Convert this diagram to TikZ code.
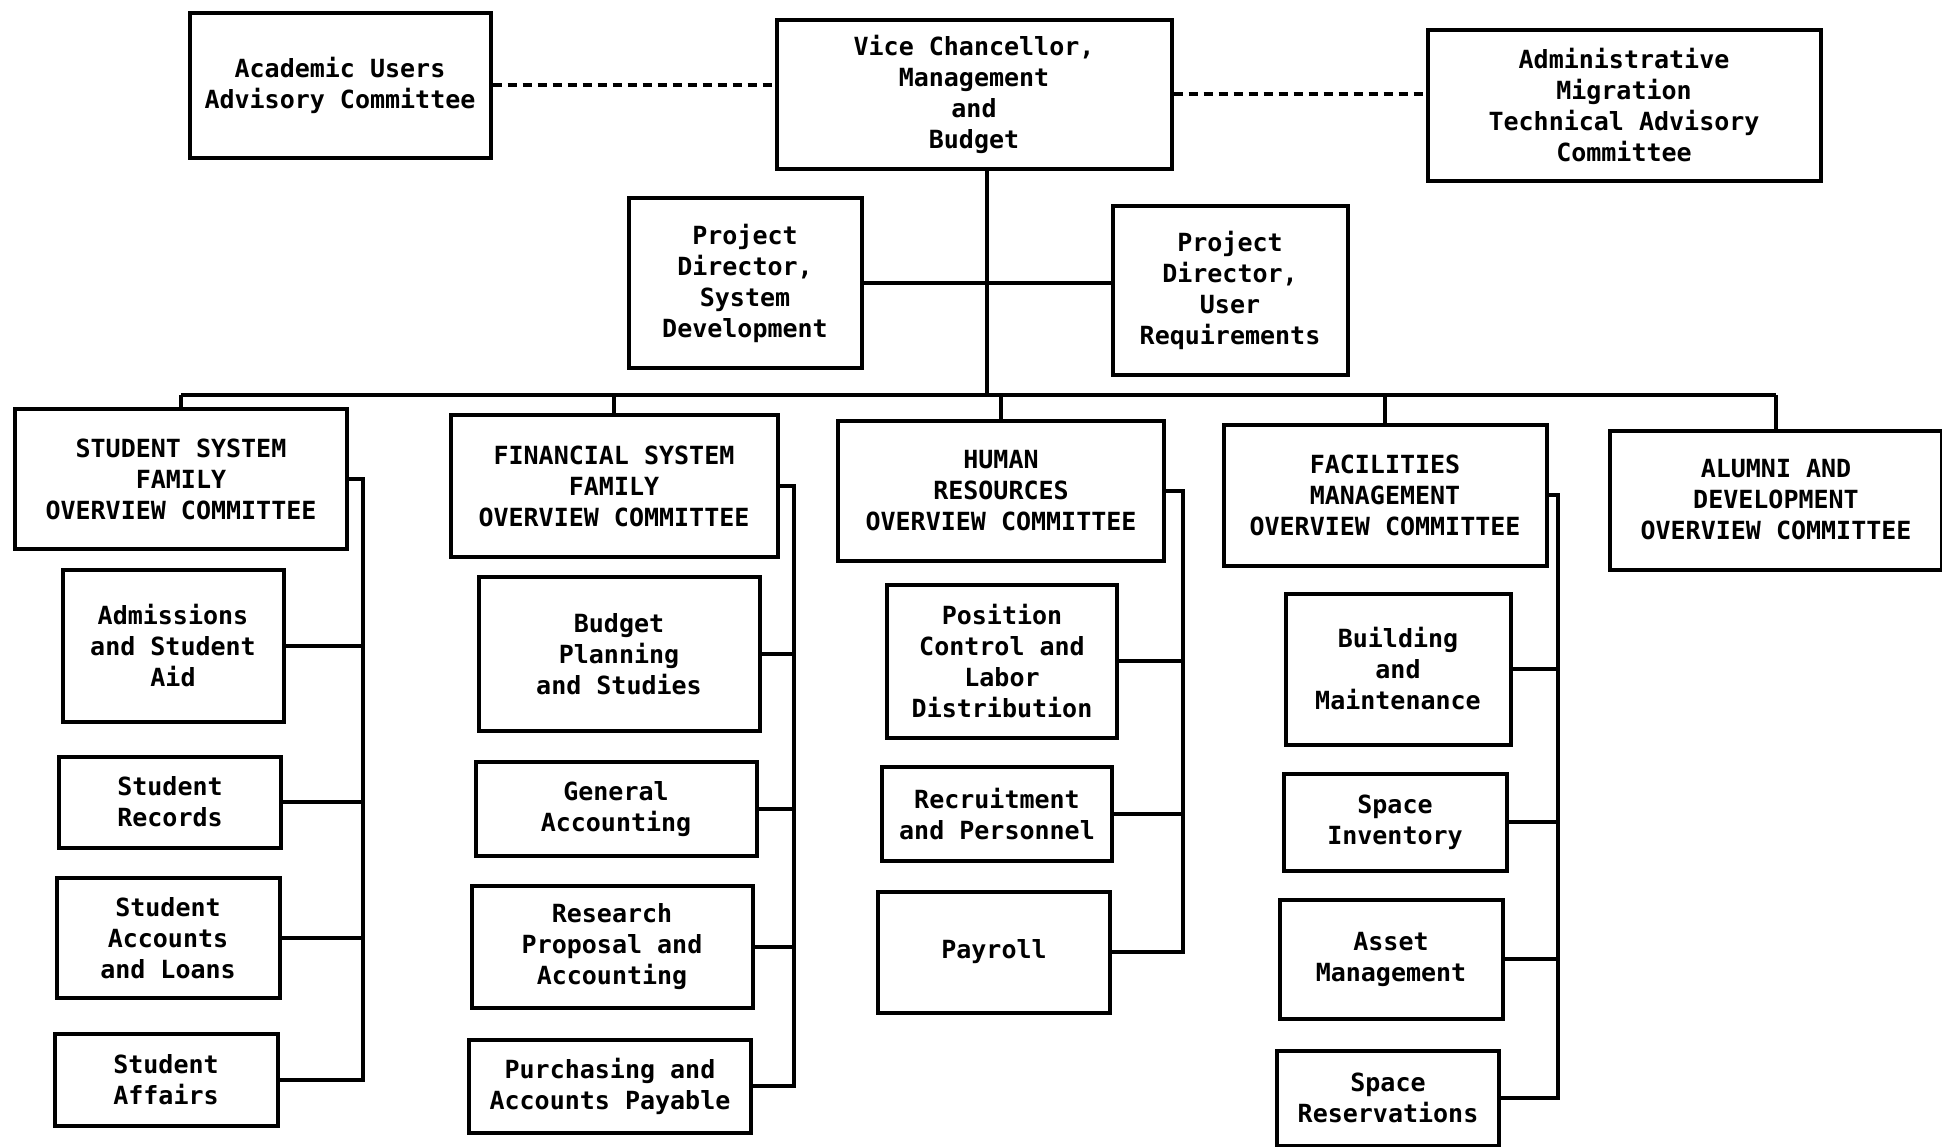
\documentclass[tikz,border=0pt]{standalone}
\usepackage{fontspec}
\setmonofont{DejaVu Sans Mono}
\usetikzlibrary{calc}

\begin{document}
\begin{tikzpicture}[x=1pt,y=-1pt,
    box/.style={draw, line width=4pt, align=center, inner sep=0pt,
      font=\fontsize{25}{31}\selectfont\ttfamily\bfseries},
    link/.style={line width=3.5pt},
    dashlink/.style={line width=4pt, dash pattern=on 9pt off 6pt}]
  \useasboundingbox (0,0) rectangle (1942,1146);

  % top row
  \node[box, minimum width=301pt, minimum height=145pt] (acad) at (340,85) {Academic Users\\Advisory Committee};
  \node[box, minimum width=395pt, minimum height=149pt] (vc) at (974,94) {Vice Chancellor,\\Management\\and\\Budget};
  \node[box, minimum width=393pt, minimum height=151pt] (admin) at (1624,105) {Administrative\\Migration\\Technical Advisory\\Committee};
  \node[box, minimum width=233pt, minimum height=170pt] (pdsys) at (745,283) {Project\\Director,\\System\\Development};
  \node[box, minimum width=235pt, minimum height=169pt] (pdusr) at (1230,290) {Project\\Director,\\User\\Requirements};

  % overview committees
  \node[box, minimum width=332pt, minimum height=140pt] (stud) at (181,479) {STUDENT SYSTEM\\FAMILY\\OVERVIEW COMMITTEE};
  \node[box, minimum width=327pt, minimum height=142pt] (fin) at (614,486) {FINANCIAL SYSTEM\\FAMILY\\OVERVIEW COMMITTEE};
  \node[box, minimum width=326pt, minimum height=140pt] (hr) at (1001,491) {HUMAN\\RESOURCES\\OVERVIEW COMMITTEE};
  \node[box, minimum width=323pt, minimum height=141pt] (fac) at (1385,495) {FACILITIES\\MANAGEMENT\\OVERVIEW COMMITTEE};
  \node[box, minimum width=332pt, minimum height=139pt] (alum) at (1776,500) {ALUMNI AND\\DEVELOPMENT\\OVERVIEW COMMITTEE};

  % student system
  \node[box, minimum width=221pt, minimum height=152pt] (adm) at (173,646) {Admissions\\and Student\\Aid};
  \node[box, minimum width=222pt, minimum height=91pt] (srec) at (170,802) {Student\\Records};
  \node[box, minimum width=223pt, minimum height=120pt] (sacc) at (168,938) {Student\\Accounts\\and Loans};
  \node[box, minimum width=223pt, minimum height=92pt] (saff) at (166,1080) {Student\\Affairs};

  % financial system
  \node[box, minimum width=281pt, minimum height=154pt] (bud) at (619,654) {Budget\\Planning\\and Studies};
  \node[box, minimum width=281pt, minimum height=94pt] (gen) at (616,809) {General\\Accounting};
  \node[box, minimum width=281pt, minimum height=122pt] (res) at (612,947) {Research\\Proposal and\\Accounting};
  \node[box, minimum width=282pt, minimum height=93pt] (pur) at (610,1086) {Purchasing and\\Accounts Payable};

  % human resources
  \node[box, minimum width=230pt, minimum height=153pt] (pos) at (1002,661) {Position\\Control and\\Labor\\Distribution};
  \node[box, minimum width=230pt, minimum height=94pt] (rec) at (997,814) {Recruitment\\and Personnel};
  \node[box, minimum width=232pt, minimum height=121pt] (pay) at (994,952) {Payroll};

  % facilities
  \node[box, minimum width=225pt, minimum height=151pt] (bld) at (1398,669) {Building\\and\\Maintenance};
  \node[box, minimum width=223pt, minimum height=97pt] (inv) at (1395,822) {Space\\Inventory};
  \node[box, minimum width=223pt, minimum height=119pt] (ast) at (1391,959) {Asset\\Management};
  \node[box, minimum width=222pt, minimum height=95pt] (rsv) at (1388,1098) {Space\\Reservations};

  % advisory links
  \draw[dashlink] (acad.east) -- (acad.east -| vc.west);
  \draw[dashlink] (vc.east) -- (vc.east -| admin.west);

  % main tree
  \coordinate (bus) at (0,395);
  \draw[link] ([xshift=13pt]vc.south) -- ([xshift=13pt]vc.south |- bus);
  \draw[link] (pdsys.east) -- (pdsys.east -| pdusr.west);
  \draw[link] (stud.north |- bus) -- (alum.north |- bus);
  \foreach \n in {stud,fin,hr,fac,alum}
    \draw[link] (\n.north) -- (\n.north |- bus);

  % side rails
  \coordinate (studrail) at (363,0);
  \coordinate (finrail) at (794,0);
  \coordinate (hrrail) at (1183,0);
  \coordinate (facrail) at (1558,0);
  \draw[link] (stud.east) -- (stud.east -| studrail) -- (saff.east -| studrail) -- (saff.east);
  \draw[link] (fin.east) -- (fin.east -| finrail) -- (pur.east -| finrail) -- (pur.east);
  \draw[link] (hr.east) -- (hr.east -| hrrail) -- (pay.east -| hrrail) -- (pay.east);
  \draw[link] (fac.east) -- (fac.east -| facrail) -- (rsv.east -| facrail) -- (rsv.east);
  \foreach \n in {adm,srec,sacc}
    \draw[link] (\n.east) -- (\n.east -| studrail);
  \foreach \n in {bud,gen,res}
    \draw[link] (\n.east) -- (\n.east -| finrail);
  \foreach \n in {pos,rec}
    \draw[link] (\n.east) -- (\n.east -| hrrail);
  \foreach \n in {bld,inv,ast}
    \draw[link] (\n.east) -- (\n.east -| facrail);
\end{tikzpicture}
\end{document}
